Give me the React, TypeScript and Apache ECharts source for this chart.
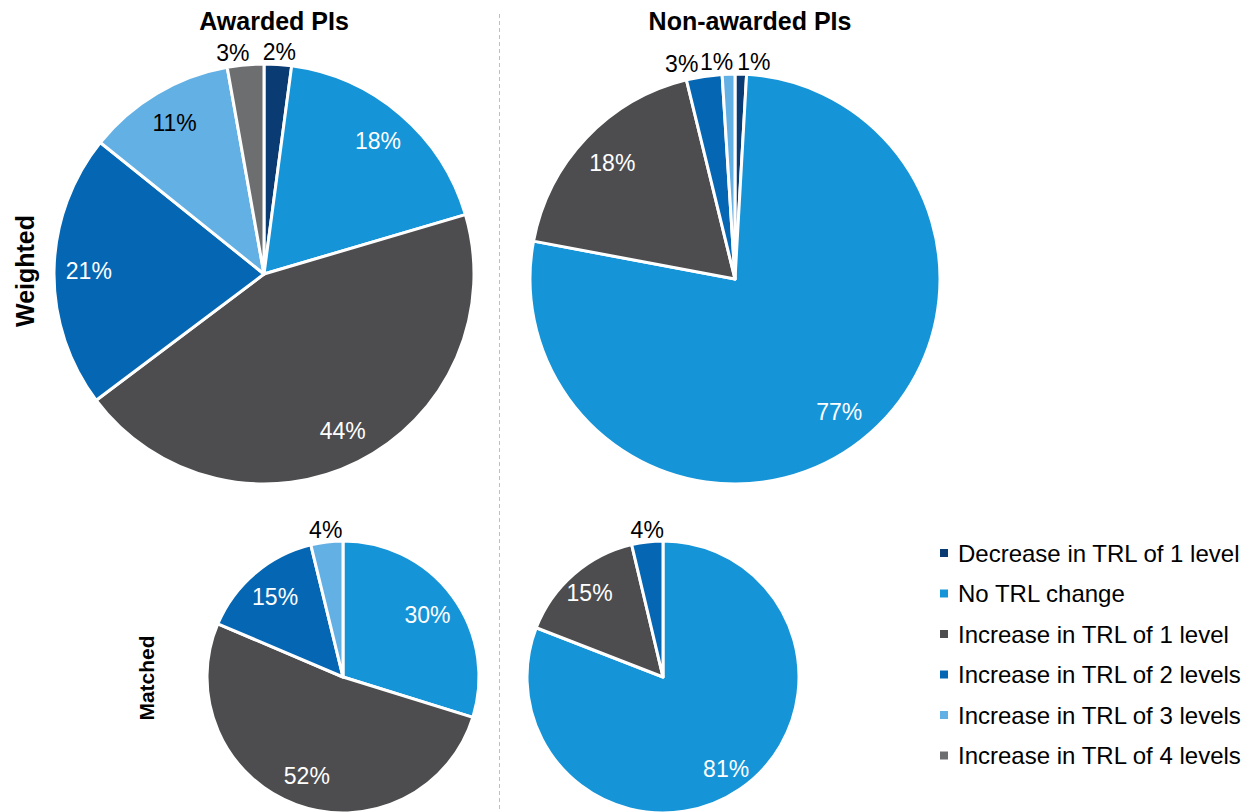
import React, { useEffect, useRef } from "react";
import * as echarts from "echarts";

const categories = [
  "Decrease in TRL of 1 level",
  "No TRL change",
  "Increase in TRL of 1 level",
  "Increase in TRL of 2 levels",
  "Increase in TRL of 3 levels",
  "Increase in TRL of 4 levels",
];
const colors = ["#0b3b73", "#1594d7", "#4d4d4f", "#0567b3", "#63b0e5", "#6d6e70"];
const insideLabelColors = ["#fff", "#fff", "#fff", "#fff", "#000", "#fff"];

const awardedWeighted = [2.1, 18.3, 44.2, 21.0, 11.4, 2.8];
const nonAwardedWeighted = [0.9, 76.9, 18.2, 2.8, 1.0, 0];
const awardedMatched = [0, 29.8, 51.6, 14.8, 3.8, 0];
const nonAwardedMatched = [0, 80.9, 15.4, 3.7, 0, 0];

const columnTitles = ["Awarded PIs", "Non-awarded PIs"];
const rowTitles = ["Weighted", "Matched"];

const FONT = "'Liberation Sans', Arial, sans-serif";

type PieSpec = {
  values: number[];
  center: [number, number];
  r: number;
  labelRing: number;
  outsideDist: Record<number, number>;
};

const pies: PieSpec[] = [
  { values: awardedWeighted, center: [264, 274], r: 210, labelRing: 0.64, outsideDist: { 0: -16, 5: -5 } },
  { values: nonAwardedWeighted, center: [735, 279], r: 205, labelRing: 0.62, outsideDist: { 0: -4, 3: 4, 4: -5 } },
  { values: awardedMatched, center: [343, 677], r: 136, labelRing: 0.5, outsideDist: { 4: -17 } },
  { values: nonAwardedMatched, center: [663, 677], r: 136, labelRing: 0.6, outsideDist: { 3: -18 } },
];

function buildSeries(p: PieSpec) {
  const total = p.values.reduce((a, b) => a + b, 0);
  const items = p.values.map((v, i) => ({ v, i })).filter((d) => d.v > 0);
  const visibleData = items.map((d) => ({
    name: categories[d.i],
    value: d.v,
    itemStyle: { color: colors[d.i] },
  }));
  const labelData = items.map((d) => {
    const pct = (d.v / total) * 100;
    const outside = pct < 5;
    return {
      name: categories[d.i],
      value: d.v,
      itemStyle: { color: "rgba(0,0,0,0)", borderWidth: 0 },
      label: outside
        ? {
            position: "outside",
            color: "#000",
            distanceToLabelLine: p.outsideDist[d.i] ?? 0,
          }
        : { position: "inside", color: insideLabelColors[d.i] },
      labelLine: { show: false, length: 12, length2: 0 },
    };
  });
  return [
    {
      type: "pie",
      center: p.center,
      radius: p.r,
      startAngle: 90,
      clockwise: true,
      avoidLabelOverlap: false,
      label: { show: false },
      labelLine: { show: false },
      itemStyle: { borderColor: "#ffffff", borderWidth: 3 },
      emphasis: { disabled: true },
      data: visibleData,
    },
    {
      type: "pie",
      center: p.center,
      radius: [p.r * p.labelRing, p.r],
      startAngle: 90,
      clockwise: true,
      silent: true,
      avoidLabelOverlap: false,
      emphasis: { disabled: true },
      label: {
        show: true,
        fontFamily: FONT,
        fontSize: 23,
        formatter: (params: any) => Math.round(params.percent) + "%",
      },
      labelLine: { show: false, length: 12, length2: 0 },
      data: labelData,
    },
  ];
}

export default function App() {
  const ref = useRef<HTMLDivElement>(null);
  useEffect(() => {
    document.body.style.margin = "0";
    if (!ref.current) return;
    const chart = echarts.init(ref.current, undefined, { renderer: "svg" });
    const series: any[] = [];
    pies.forEach((p) => series.push(...buildSeries(p)));
    chart.setOption({
      animation: false,
      backgroundColor: "#ffffff",
      legend: {
        orient: "vertical",
        left: 938,
        top: 541,
        padding: 0,
        icon: "rect",
        itemWidth: 10,
        itemHeight: 10,
        itemGap: 16.5,
        selectedMode: false,
        data: categories,
        textStyle: {
          fontFamily: FONT,
          fontSize: 24,
          lineHeight: 24,
          color: "#000",
          padding: [0, 0, 0, 4],
        },
      },
      graphic: [
        {
          type: "line",
          shape: { x1: 499.5, y1: 14, x2: 499.5, y2: 812 },
          style: { stroke: "#bfbfbf", lineWidth: 1, lineDash: [4, 3] },
          silent: true,
        },
        {
          type: "text",
          x: 274,
          y: 21,
          style: {
            text: columnTitles[0],
            fontFamily: FONT,
            fontWeight: "bold",
            fontSize: 25,
            fill: "#000",
            align: "center",
            verticalAlign: "middle",
          },
        },
        {
          type: "text",
          x: 750,
          y: 21,
          style: {
            text: columnTitles[1],
            fontFamily: FONT,
            fontWeight: "bold",
            fontSize: 25,
            fill: "#000",
            align: "center",
            verticalAlign: "middle",
          },
        },
        {
          type: "text",
          x: 25,
          y: 271,
          rotation: Math.PI / 2,
          style: {
            text: rowTitles[0],
            fontFamily: FONT,
            fontWeight: "bold",
            fontSize: 25,
            fill: "#000",
            align: "center",
            verticalAlign: "middle",
          },
        },
        {
          type: "text",
          x: 146,
          y: 678,
          rotation: Math.PI / 2,
          style: {
            text: rowTitles[1],
            fontFamily: FONT,
            fontWeight: "bold",
            fontSize: 21,
            fill: "#000",
            align: "center",
            verticalAlign: "middle",
          },
        },
      ],
      series,
    });
    return () => chart.dispose();
  }, []);
  return <div ref={ref} style={{ width: 1260, height: 812 }} />;
}
